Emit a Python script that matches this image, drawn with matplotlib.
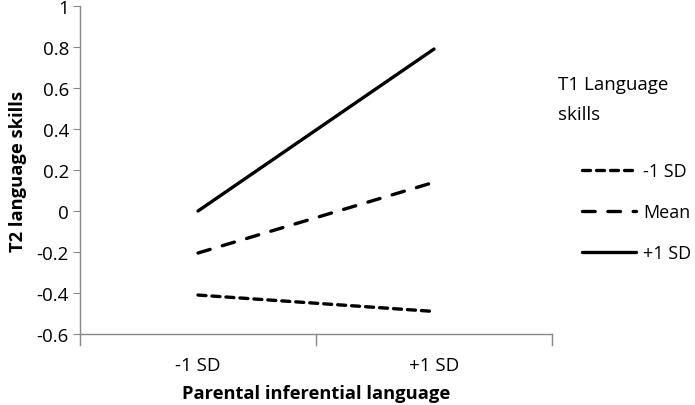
import matplotlib
matplotlib.use("Agg")
import matplotlib.pyplot as plt

plt.rcParams['font.family'] = ['Open Sans', 'DejaVu Sans']

categories = ["-1 SD", "+1 SD"]
series_names = ["-1 SD", "Mean", "+1 SD"]
low_values = [-0.41, -0.49]
mean_values = [-0.205, 0.14]
high_values = [0.0, 0.79]
yticks = [-0.6, -0.4, -0.2, 0, 0.2, 0.4, 0.6, 0.8, 1]
ytick_labels = ["-0.6", "-0.4", "-0.2", "0", "0.2", "0.4", "0.6", "0.8", "1"]

W, H = 695, 406
fig = plt.figure(figsize=(W/100, H/100), dpi=100)
ax = fig.add_axes([80/W, 1-335/H, (552-80)/W, (335-7)/H])

x = list(range(len(categories)))
lw = 2.4
styles = [(0, (2.4, 1.8)), (0, (3.8, 3.8)), '-']
for vals, st, name in zip([low_values, mean_values, high_values], styles, series_names):
    ax.plot(x, vals, color='black', linewidth=lw, linestyle=st, label=name,
            solid_capstyle='round', dash_capstyle='round')

fs = 13.5
ax.set_xlim(-0.5, 1.5)
ax.set_ylim(-0.6, 1.0)
ax.set_yticks(yticks)
ax.set_yticklabels(ytick_labels, fontsize=fs)
ax.set_xticks(x)
ax.set_xticklabels(categories, fontsize=fs)
ax.tick_params(axis='x', length=0, pad=16)
ax.tick_params(axis='y', length=5, direction='out', color='#888888', pad=3)
for b in [-0.5, 0.5, 1.5]:
    ax.plot([b, b], [0, -0.035], transform=ax.get_xaxis_transform(), color='#888888', lw=1, clip_on=False)
for s in ['top', 'right']:
    ax.spines[s].set_visible(False)
for s in ['left', 'bottom']:
    ax.spines[s].set_color('#888888')
    ax.spines[s].set_linewidth(1)

ax.set_xlabel("Parental inferential language", fontsize=13.2, fontweight='bold', labelpad=7)
ax.set_ylabel("T2 language skills", fontsize=13.2, fontweight='bold', labelpad=7)

fig.text(558/W, 1-85/H, "T1 Language", fontsize=fs, va='center', ha='left')
fig.text(558/W, 1-115/H, "skills", fontsize=fs, va='center', ha='left')

leg = ax.legend(loc='upper left', bbox_to_anchor=(582/W, 1-163/H), bbox_transform=fig.transFigure,
                frameon=False, fontsize=13, handlelength=3.0, labelspacing=1.27, handletextpad=0.4,
                borderpad=0, borderaxespad=0)
fig.savefig("out.png", dpi=100)
